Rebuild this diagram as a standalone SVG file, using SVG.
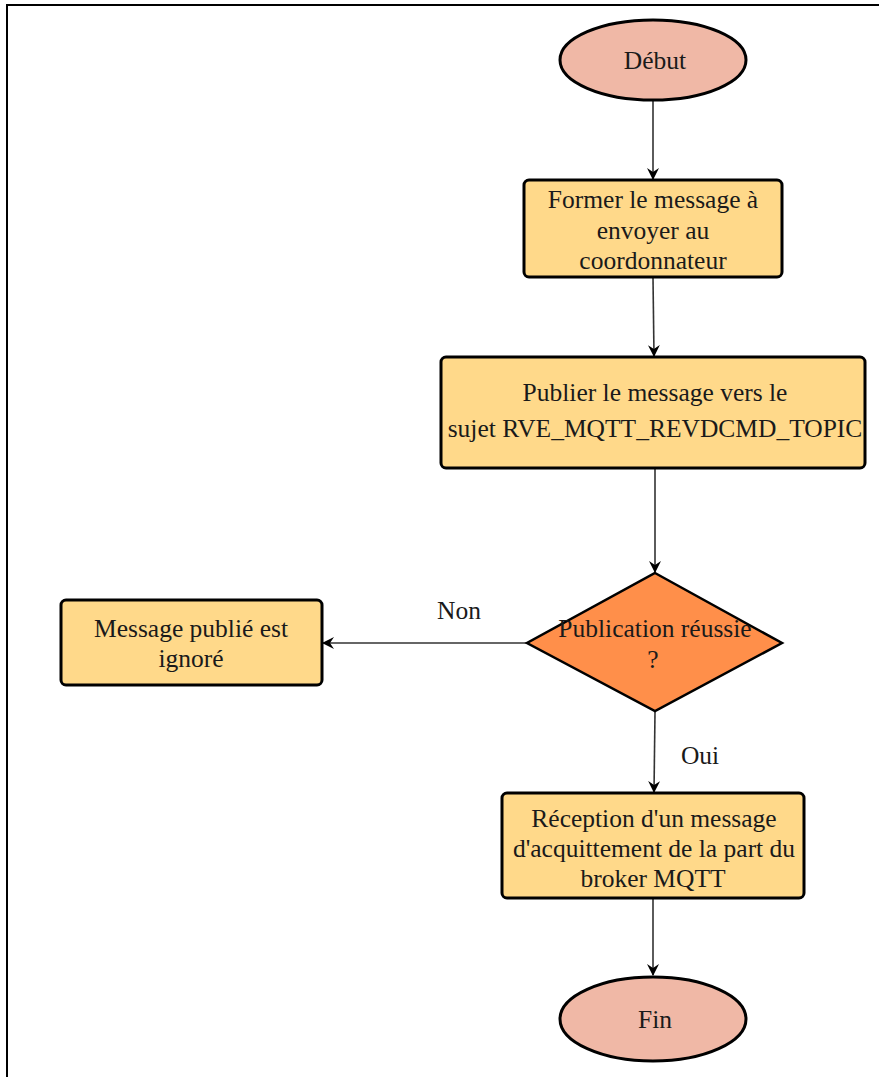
<svg xmlns="http://www.w3.org/2000/svg" width="879" height="1077" viewBox="0 0 879 1077">
  <style>
    .box { fill: #FFD98A; stroke: #000; stroke-width: 3; }
    .term { fill: #F0B8A6; stroke: #000; stroke-width: 3; }
    .dec { fill: #FF8F4A; stroke: #000; stroke-width: 2.5; }
    text { font-family: 'Liberation Serif', 'Times New Roman', 'DejaVu Serif', serif; font-size: 25.5px; fill: #1a1a1a; text-anchor: middle; }
    .edge { fill: none; stroke: #333; stroke-width: 1.6; marker-end: url(#arrow); }
    .frame { fill: none; stroke: #000; stroke-width: 2; }
  </style>
  <defs>
    <marker id="arrow" viewBox="0 0 12 12" refX="11" refY="6" markerWidth="12" markerHeight="12" markerUnits="userSpaceOnUse" orient="auto">
      <path d="M0,0 L12,6 L0,12 L4,6 z" fill="#000"/>
    </marker>
  </defs>

  <rect width="879" height="1077" fill="#fff"/>
  <!-- page frame: top and left edges -->
  <polyline class="frame" points="7,1077 7,5 879,5"/>

  <g id="connectors">
    <line class="edge" x1="653" y1="101" x2="653" y2="179"/>
    <line class="edge" x1="653" y1="278" x2="654" y2="356"/>
    <line class="edge" x1="655" y1="469" x2="655" y2="572"/>
    <line class="edge" x1="527" y1="643" x2="323" y2="643"/>
    <line class="edge" x1="655" y1="712" x2="654" y2="792"/>
    <line class="edge" x1="653" y1="899" x2="653" y2="975"/>
    <text x="459" y="619">Non</text>
    <text x="700" y="764">Oui</text>
  </g>

  <g id="debut">
    <ellipse class="term" cx="653" cy="60" rx="93" ry="40"/>
    <text x="655" y="69">Début</text>
  </g>

  <g id="former">
    <rect class="box" x="524" y="180" width="258" height="97" rx="5"/>
    <text x="653" y="208">Former le message à</text>
    <text x="653" y="239">envoyer au</text>
    <text x="653" y="269">coordonnateur</text>
  </g>

  <g id="publier">
    <rect class="box" x="441" y="357" width="424" height="111" rx="5"/>
    <text x="655" y="401">Publier le message vers le</text>
    <text x="655" y="437">sujet RVE_MQTT_REVDCMD_TOPIC</text>
  </g>

  <g id="decision">
    <polygon class="dec" points="655,573 782,643 655,711 527,643"/>
    <text x="655" y="637">Publication réussie</text>
    <text x="653" y="668">?</text>
  </g>

  <g id="ignore">
    <rect class="box" x="61" y="600" width="261" height="85" rx="5"/>
    <text x="191" y="637">Message publié est</text>
    <text x="191" y="667">ignoré</text>
  </g>

  <g id="reception">
    <rect class="box" x="502" y="793" width="302" height="105" rx="5"/>
    <text x="654" y="827">Réception d'un message</text>
    <text x="654" y="857">d'acquittement de la part du</text>
    <text x="653" y="887">broker MQTT</text>
  </g>

  <g id="fin">
    <ellipse class="term" cx="653" cy="1019" rx="93" ry="42"/>
    <text x="655" y="1028">Fin</text>
  </g>
</svg>
